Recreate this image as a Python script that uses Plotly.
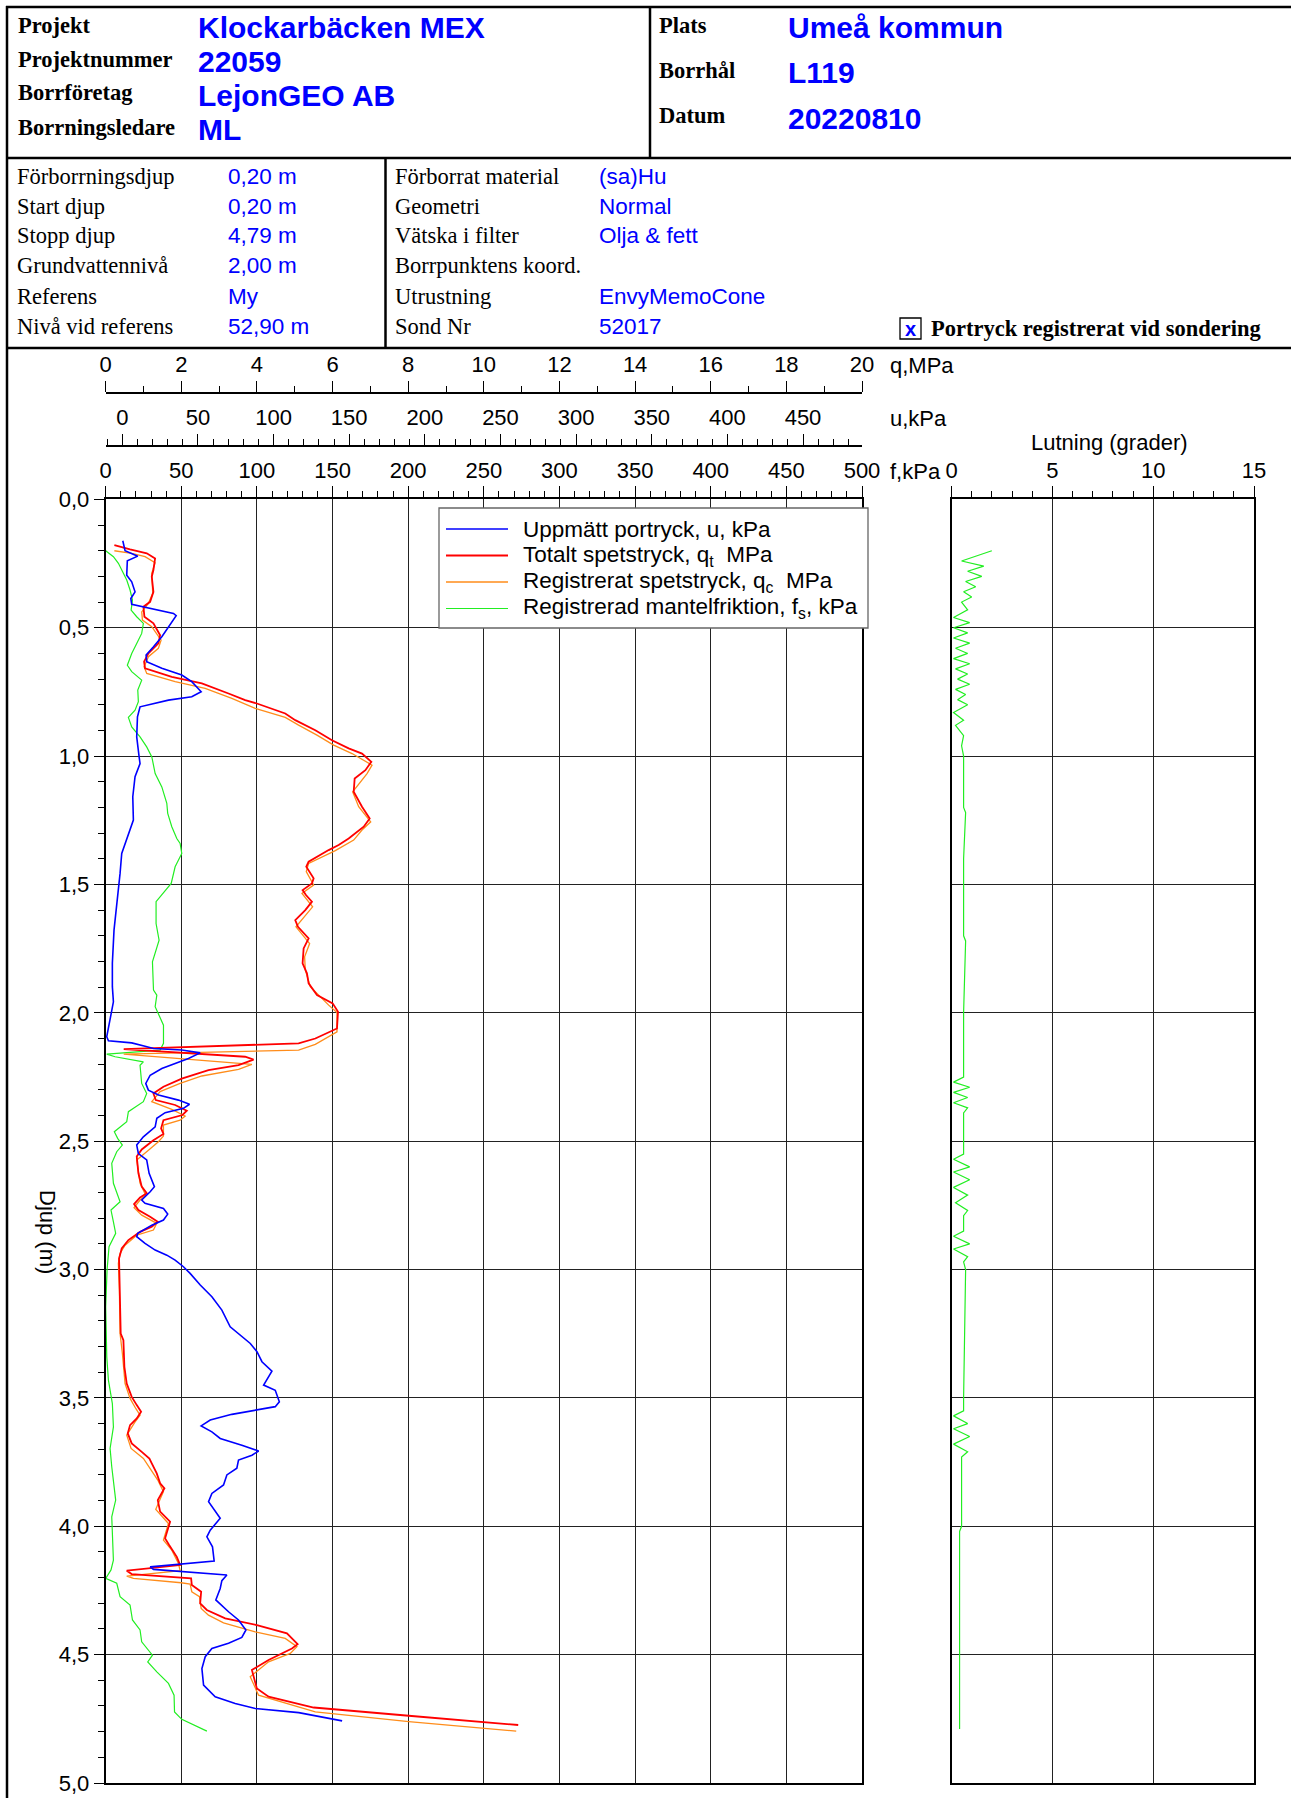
import plotly.graph_objects as go

# ---------------- data ----------------
u_depth = [0.161,0.20,0.221,0.239,0.295,0.321,0.36,0.386,0.409,0.444,
           0.453,0.483,0.535,0.574,0.606,0.632,0.658,0.684,0.71,0.749,
           0.769,0.782,0.808,0.847,0.925,1.003,1.029,1.08,1.158,1.249,
           1.321,1.379,1.457,1.522,1.60,1.678,1.807,1.898,1.957,2.028,
           2.093,2.109,2.117,2.13,2.139,2.145,2.156,2.178,2.197,2.217,
           2.243,2.275,2.301,2.32,2.34,2.356,2.372,2.389,2.411,2.444,
           2.483,2.515,2.548,2.573,2.625,2.677,2.697,2.729,2.742,2.762,
           2.784,2.807,2.827,2.859,2.872,2.898,2.924,2.944,2.963,2.989,
           3.015,3.06,3.106,3.158,3.223,3.249,3.288,3.32,3.359,3.396,
           3.45,3.47,3.515,3.534,3.545,3.564,3.586,3.609,3.632,3.658,
           3.684,3.707,3.723,3.742,3.774,3.80,3.839,3.872,3.904,3.969,
           4.015,4.041,4.08,4.135,4.158,4.168,4.19,4.212,4.242,4.287,
           4.333,4.365,4.404,4.433,4.456,4.476,4.508,4.554,4.619,4.664,
           4.69,4.71,4.726,4.758]
u_kpa = [0.3,1.8,10.2,3.3,2.9,6.2,8.4,5.6,6.2,33.8,
         35.6,32.3,26.1,20.6,15.7,16.1,26.1,39.3,45.9,52.1,
         45.9,30.5,11.7,10.0,9.5,11.1,11.7,8.4,6.9,7.3,
         3.3,-0.4,-1.5,-2.6,-3.7,-5.5,-6.6,-6.6,-5.9,-8.1,
         -10.3,-9.2,6.2,15.0,20.6,39.3,51.5,43.7,34.9,26.1,
         18.4,15.5,17.2,23.9,37.1,44.4,40.4,28.3,22.8,21.7,
         13.9,9.5,10.6,16.1,17.7,21.2,18.4,12.8,15.0,27.2,
         30.0,27.2,19.5,10.2,9.5,15.0,21.7,29.4,34.9,40.4,
         44.8,51.5,59.2,65.8,71.3,76.8,84.6,89.0,92.3,98.9,
         93.4,101.1,103.8,101.1,90.1,72.4,58.1,52.1,59.2,64.7,
         79.0,90.1,85.7,76.8,75.7,69.1,66.9,59.2,57.0,64.7,
         58.1,55.9,59.6,60.7,18.4,20.6,69.1,65.8,64.7,61.8,
         70.2,76.8,81.7,79.0,70.2,59.2,54.8,52.6,53.7,61.4,
         74.6,87.9,116.6,145.3]

qt_depth = [0.178,0.195,0.21,0.23,0.275,0.301,0.36,0.399,0.418,0.457,
            0.483,0.529,0.561,0.60,0.632,0.658,0.691,0.717,0.756,0.782,
            0.795,0.834,0.86,0.899,0.938,0.97,0.99,1.022,1.055,1.087,
            1.139,1.197,1.243,1.275,1.321,1.346,1.366,1.411,1.431,1.476,
            1.496,1.522,1.541,1.567,1.60,1.639,1.665,1.71,1.749,1.807,
            1.846,1.885,1.931,1.963,1.996,2.061,2.10,2.119,2.141,2.171,
            2.182,2.204,2.223,2.256,2.288,2.314,2.34,2.359,2.381,2.398,
            2.418,2.45,2.472,2.496,2.532,2.56,2.625,2.677,2.703,2.719,
            2.745,2.768,2.794,2.814,2.833,2.853,2.885,2.918,2.957,3.015,
            3.145,3.249,3.275,3.379,3.444,3.496,3.528,3.554,3.58,3.606,
            3.638,3.677,3.71,3.736,3.755,3.794,3.833,3.852,3.898,3.943,
            3.982,4.015,4.047,4.073,4.119,4.151,4.173,4.186,4.203,4.229,
            4.255,4.30,4.326,4.359,4.385,4.417,4.459,4.476,4.521,4.56,
            4.632,4.664,4.706,4.738,4.761,4.774]
qt_mpa = [0.229,0.644,1.086,1.306,1.262,1.218,1.262,1.174,0.997,1.024,
          1.262,1.439,1.394,1.130,1.015,1.041,1.748,2.542,3.248,3.689,
          3.998,4.748,5.013,5.543,5.984,6.425,6.778,7.025,6.867,6.584,
          6.558,6.778,6.981,6.823,6.425,6.160,5.896,5.366,5.304,5.499,
          5.454,5.207,5.296,5.454,5.278,5.013,5.084,5.366,5.234,5.207,
          5.322,5.366,5.587,6.002,6.143,6.116,5.543,5.101,0.477,3.689,
          3.910,3.513,2.718,2.012,1.527,1.262,1.324,1.836,2.145,2.030,
          1.527,1.465,1.527,1.262,0.953,0.821,0.865,0.953,1.086,0.909,
          0.750,0.865,1.174,1.377,1.218,0.909,0.600,0.424,0.353,0.362,
          0.380,0.397,0.468,0.494,0.556,0.688,0.821,0.936,0.821,0.644,
          0.583,0.688,0.953,1.156,1.218,1.350,1.439,1.553,1.377,1.439,
          1.703,1.642,1.571,1.677,1.880,1.968,0.556,0.688,2.259,2.277,
          2.524,2.498,2.674,3.160,3.998,4.793,5.075,4.925,4.307,3.866,
          3.998,4.307,5.499,8.014,10.0,10.909]

qc_depth = [0.20,0.21,0.223,0.247,0.288,0.366,0.405,0.438,0.47,0.496,
            0.548,0.58,0.613,0.652,0.678,0.71,0.736,0.775,0.814,0.849,
            0.879,0.918,0.957,0.99,1.035,1.068,1.139,1.197,1.256,1.288,
            1.327,1.368,1.418,1.45,1.502,1.535,1.587,1.665,1.73,1.782,
            1.833,1.898,1.97,1.999,2.074,2.123,2.145,2.161,2.201,2.22,
            2.246,2.275,2.307,2.346,2.376,2.402,2.418,2.437,2.48,2.502,
            2.535,2.573,2.664,2.71,2.729,2.759,2.788,2.82,2.846,2.866,
            2.905,2.937,2.976,3.08,3.249,3.327,3.444,3.502,3.541,3.567,
            3.593,3.645,3.697,3.736,3.82,3.865,3.934,3.989,4.054,4.093,
            4.145,4.173,4.194,4.203,4.22,4.225,4.255,4.274,4.32,4.346,
            4.376,4.411,4.437,4.469,4.495,4.528,4.586,4.658,4.723,4.761,
            4.798]
qc_mpa = [0.229,0.688,1.041,1.306,1.218,1.244,1.130,0.953,0.971,1.218,
          1.465,1.394,1.130,1.015,1.086,1.836,2.630,3.336,3.954,4.748,
          5.101,5.587,6.028,6.514,7.043,6.911,6.531,6.690,7.008,6.778,
          6.558,6.072,5.366,5.304,5.499,5.190,5.472,5.031,5.393,5.260,
          5.278,5.410,5.896,6.116,6.116,5.543,5.101,0.477,3.866,3.513,
          2.542,1.968,1.439,1.218,1.748,2.101,1.968,1.527,1.527,1.394,
          1.130,0.821,0.909,1.059,0.909,0.750,0.953,1.350,1.262,0.821,
          0.512,0.380,0.335,0.362,0.380,0.441,0.512,0.644,0.794,0.909,
          0.777,0.556,0.671,0.997,1.377,1.527,1.324,1.659,1.527,1.748,
          1.924,1.968,0.556,0.733,1.995,2.233,2.277,2.480,2.524,2.718,
          3.116,3.954,4.748,5.057,4.881,4.307,3.822,4.042,5.543,8.014,
          10.856]

fs_depth = [0.20,0.223,0.249,0.275,0.314,0.353,0.392,0.431,0.457,0.483,
            0.522,0.561,0.60,0.646,0.671,0.704,0.743,0.788,0.821,0.849,
            0.886,0.925,0.964,1.003,1.068,1.12,1.184,1.223,1.275,1.321,
            1.34,1.379,1.431,1.496,1.548,1.567,1.652,1.717,1.801,1.911,
            1.931,1.976,2.048,2.119,2.145,2.161,2.171,2.191,2.204,2.275,
            2.314,2.346,2.385,2.424,2.463,2.489,2.515,2.541,2.586,2.664,
            2.736,2.768,2.814,2.859,2.911,3.002,3.145,3.34,3.431,3.522,
            3.613,3.697,3.768,3.898,3.963,4.132,4.17,4.203,4.222,4.274,
            4.307,4.365,4.404,4.45,4.502,4.528,4.567,4.612,4.658,4.723,
            4.752,4.798]
fs_kpa = [0.0,5.1,8.4,10.6,13.9,16.1,17.7,16.8,20.5,24.9,
          23.8,20.5,17.2,14.3,17.2,23.8,21.2,21.6,19.4,15.0,
          17.2,22.7,27.1,30.5,32.7,37.1,40.4,41.0,43.7,47.0,
          49.2,50.3,45.9,43.3,36.0,33.3,33.3,35.3,30.9,31.6,
          33.8,32.7,38.2,38.2,36.0,0.7,6.2,24.9,22.7,23.8,
          27.1,24.9,15.0,13.9,5.7,7.9,11.0,7.3,4.0,5.1,
          9.5,3.5,5.1,6.6,2.2,0.9,0.0,0.7,1.8,4.4,
          5.1,2.9,4.0,6.6,4.0,5.1,3.5,0.0,7.3,9.5,
          16.1,17.7,22.7,23.8,30.9,27.8,33.8,41.5,45.2,45.5,
          50.3,66.9]

lut_depth = [0.20,0.22,0.24,0.26,0.28,0.30,0.32,0.34,0.36,0.38,
             0.40,0.43,0.46,0.48,0.50,0.52,0.54,0.56,0.58,0.60,
             0.62,0.64,0.66,0.68,0.70,0.72,0.74,0.76,0.78,0.80,
             0.83,0.86,0.88,0.92,0.96,1.00,1.20,1.22,1.40,1.70,
             1.72,2.00,2.25,2.27,2.29,2.31,2.33,2.35,2.37,2.39,
             2.55,2.57,2.60,2.62,2.65,2.68,2.71,2.74,2.77,2.79,
             2.85,2.87,2.90,2.92,2.95,2.97,3.00,3.50,3.55,3.57,
             3.60,3.62,3.65,3.68,3.71,3.73,4.00,4.02,4.79]
lut_deg = [2.0,1.2,0.5,1.6,0.8,1.5,0.7,1.2,0.6,1.0,
           0.5,0.8,0.1,0.9,0.1,0.8,0.1,0.9,0.2,0.8,
           0.1,0.9,0.2,0.8,0.3,0.9,0.2,0.7,0.3,0.8,
           0.1,0.6,0.2,0.6,0.5,0.6,0.6,0.7,0.6,0.6,
           0.7,0.6,0.6,0.1,0.9,0.1,0.8,0.1,0.8,0.6,
           0.6,0.1,0.9,0.1,0.9,0.1,0.8,0.2,0.8,0.6,
           0.6,0.1,0.9,0.1,0.8,0.6,0.7,0.6,0.6,0.1,
           0.8,0.1,0.9,0.1,0.8,0.5,0.5,0.4,0.4]

depth_ticks = [0.0, 0.5, 1.0, 1.5, 2.0, 2.5, 3.0, 3.5, 4.0, 4.5, 5.0]
depth_ticktext = ["0,0", "0,5", "1,0", "1,5", "2,0", "2,5", "3,0", "3,5", "4,0", "4,5", "5,0"]

header_left = [("Projekt", "Klockarbäcken MEX"), ("Projektnummer", "22059"),
               ("Borrföretag", "LejonGEO AB"), ("Borrningsledare", "ML")]
header_right = [("Plats", "Umeå kommun"), ("Borrhål", "L119"), ("Datum", "20220810")]
info_left = [("Förborrningsdjup", "0,20 m"), ("Start djup", "0,20 m"), ("Stopp djup", "4,79 m"),
             ("Grundvattennivå", "2,00 m"), ("Referens", "My"), ("Nivå vid referens", "52,90 m")]
info_mid = [("Förborrat material", "(sa)Hu"), ("Geometri", "Normal"), ("Vätska i filter", "Olja & fett"),
            ("Borrpunktens koord.", ""), ("Utrustning", "EnvyMemoCone"), ("Sond Nr", "52017")]

legend_items = [("Uppmätt portryck, u, kPa", "#0000FF", 1.6),
                ("Totalt spetstryck, q<sub>t</sub>  MPa", "#FF0000", 1.8),
                ("Registrerat spetstryck, q<sub>c</sub>  MPa", "#FF8C1A", 1.3),
                ("Registrerad mantelfriktion, f<sub>s</sub>, kPa", "#22EE22", 1.2)]

# ---------------- layout helpers ----------------
W, H = 1291, 1798
def fx(p): return p / W
def fy(p): return 1 - p / H

SANS = "Liberation Sans, Arial, sans-serif"
SERIF = "Liberation Serif, Times New Roman, serif"
BLUE = "#0000FF"

X0, X1 = 105.7, 862.0      # main plot pixel extents
LX0, LX1 = 951.5, 1254.0   # lutning plot
Y0, Y1 = 499.4, 1783.0

fig = go.Figure()

fig.add_trace(go.Scatter(x=fs_kpa, y=fs_depth, mode="lines", xaxis="x", yaxis="y",
                         line=dict(color="#22EE22", width=1.2), showlegend=False,
                         name="Registrerad mantelfriktion, fs, kPa"))
fig.add_trace(go.Scatter(x=qc_mpa, y=qc_depth, mode="lines", xaxis="x2", yaxis="y",
                         line=dict(color="#FF8C1A", width=1.3), showlegend=False,
                         name="Registrerat spetstryck, qc MPa"))
fig.add_trace(go.Scatter(x=qt_mpa, y=qt_depth, mode="lines", xaxis="x2", yaxis="y",
                         line=dict(color="#FF0000", width=1.8), showlegend=False,
                         name="Totalt spetstryck, qt MPa"))
fig.add_trace(go.Scatter(x=u_kpa, y=u_depth, mode="lines", xaxis="x3", yaxis="y",
                         line=dict(color="#0000FF", width=1.6), showlegend=False,
                         name="Uppmätt portryck, u, kPa"))
fig.add_trace(go.Scatter(x=lut_deg, y=lut_depth, mode="lines", xaxis="x4", yaxis="y2",
                         line=dict(color="#22EE22", width=1.2), showlegend=False,
                         name="Lutning"))

tickfont = dict(family=SANS, size=22, color="black")
dom_main = [fx(X0), fx(X1)]
dom_y = [fy(Y1), fy(Y0)]

def top_axis(**kw):
    d = dict(side="top", ticks="outside", ticklen=11, tickwidth=1.3, tickcolor="black",
             showline=True, linecolor="black", zeroline=False, tickfont=tickfont,
             fixedrange=True, tickmode="linear")
    d.update(kw)
    return d

fig.update_layout(
    width=W, height=H, autosize=False,
    margin=dict(l=0, r=0, t=0, b=0, autoexpand=False),
    paper_bgcolor="white", plot_bgcolor="white",
    showlegend=False,
    xaxis=top_axis(domain=dom_main, range=[0, 500], anchor="y", tick0=0, dtick=50,
                   linewidth=2, mirror=True, showgrid=True, gridcolor="#222", gridwidth=1,
                   minor=dict(tick0=0, dtick=10, ticks="outside", ticklen=6, tickcolor="black",
                              tickwidth=1, showgrid=False)),
    xaxis2=top_axis(domain=dom_main, range=[0, 20], overlaying="x", anchor="free",
                    position=fy(393), tick0=0, dtick=2, linewidth=1.6, showgrid=False,
                    minor=dict(tick0=0, dtick=1, ticks="outside", ticklen=6, tickcolor="black",
                               tickwidth=1, showgrid=False)),
    xaxis3=top_axis(domain=dom_main, range=[-11, 489], overlaying="x", anchor="free",
                    position=fy(445.5), tick0=0, dtick=50, linewidth=1.6, showgrid=False,
                    minor=dict(tick0=0, dtick=10, ticks="outside", ticklen=6, tickcolor="black",
                               tickwidth=1, showgrid=False)),
    xaxis4=top_axis(domain=[fx(LX0), fx(LX1)], range=[0, 15], anchor="y2", tick0=0, dtick=5,
                    linewidth=2, mirror=True, showgrid=True, gridcolor="#222", gridwidth=1,
                    minor=dict(tick0=0, dtick=1, ticks="outside", ticklen=6, tickcolor="black",
                               tickwidth=1, showgrid=False)),
    yaxis=dict(domain=dom_y, range=[5, 0], anchor="x", tickmode="array",
               tickvals=depth_ticks, ticktext=depth_ticktext, ticks="outside", ticklen=10,
               tickwidth=1.3, tickcolor="black", showline=True, linewidth=2, linecolor="black",
               mirror=True, showgrid=True, gridcolor="#222", gridwidth=1, zeroline=False,
               tickfont=tickfont, fixedrange=True,
               minor=dict(tickvals=[i / 10 for i in range(51)], ticks="outside", ticklen=6,
                          tickcolor="black", tickwidth=1, showgrid=False)),
    yaxis2=dict(domain=dom_y, range=[5, 0], anchor="x4", tickmode="array",
                tickvals=depth_ticks, showticklabels=False, ticks="", showline=True,
                linewidth=2, linecolor="black", mirror=True, showgrid=True, gridcolor="#222",
                gridwidth=1, zeroline=False, fixedrange=True),
)

shapes = []
annots = []

def hline(y, x0, x1, w=2.5, color="black"):
    shapes.append(dict(type="line", xref="paper", yref="paper", x0=fx(x0), x1=fx(x1),
                       y0=fy(y), y1=fy(y), line=dict(color=color, width=w)))

def vline(x, y0, y1, w=2.5, color="black"):
    shapes.append(dict(type="line", xref="paper", yref="paper", x0=fx(x), x1=fx(x),
                       y0=fy(y0), y1=fy(y1), line=dict(color=color, width=w)))

def text(x, y, s, family=SANS, size=22, color="black", bold=False, xanchor="left", angle=0):
    if bold:
        s = "<b>" + s + "</b>"
    annots.append(dict(x=fx(x), y=fy(y), xref="paper", yref="paper", text=s, showarrow=False,
                       xanchor=xanchor, yanchor="middle", textangle=angle,
                       font=dict(family=family, size=size, color=color)))

# header frame
hline(7, 6, W)
vline(7, 6, H)
hline(158, 7, W)
vline(650, 7, 158)
hline(348, 7, W)
vline(385.5, 158, 348)

for i, (lab, val) in enumerate(header_left):
    ly = [25, 59, 93, 127][i]
    text(16, ly, lab, family=SERIF, size=22.5, bold=True)
    text(196, ly + 2.5, val, family=SANS, size=30, color=BLUE, bold=True)
for i, (lab, val) in enumerate(header_right):
    ly = [25, 70, 116][i]
    text(657, ly, lab, family=SERIF, size=22.5, bold=True)
    text(786, ly + 2.5, val, family=SANS, size=30, color=BLUE, bold=True)

rows = [176.5, 206, 236, 266, 296.5, 326.5]
for i, (lab, val) in enumerate(info_left):
    text(15, rows[i], lab, family=SERIF, size=22.5)
    text(226, rows[i], val, family=SANS, size=22.5, color=BLUE)
for i, (lab, val) in enumerate(info_mid):
    text(393, rows[i], lab, family=SERIF, size=22.5)
    if val:
        text(597, rows[i], val, family=SANS, size=22.5, color=BLUE)

# checkbox
shapes.append(dict(type="rect", xref="paper", yref="paper", x0=fx(900), x1=fx(921),
                   y0=fy(339), y1=fy(318), line=dict(color="black", width=1.3)))
text(910.5, 328.5, "x", family=SANS, size=20, color=BLUE, bold=True, xanchor="center")
text(929, 328.5, "Portryck registrerat vid sondering", family=SERIF, size=22.5, bold=True)

# axis names
text(888, 366, "q,MPa", size=22)
text(888, 418.5, "u,kPa", size=22)
text(888, 471.5, "f,kPa", size=22)
text(1109, 443, "Lutning (grader)", size=22, xanchor="center")
text(48, 1232, "Djup (m)", size=22, xanchor="center", angle=90)

# legend box
shapes.append(dict(type="rect", xref="paper", yref="paper", x0=fx(439), x1=fx(868),
                   y0=fy(628), y1=fy(508), fillcolor="white",
                   line=dict(color="#666666", width=1.3), layer="above"))
ly = [529, 555.5, 582, 608.5]
for i, (lab, col, w) in enumerate(legend_items):
    shapes.append(dict(type="line", xref="paper", yref="paper", x0=fx(446), x1=fx(508),
                       y0=fy(ly[i]), y1=fy(ly[i]), line=dict(color=col, width=w), layer="above"))
    text(521, ly[i], lab, size=22.5)

fig.update_layout(shapes=shapes, annotations=annots)

post = ("document.documentElement.style.margin='0';document.body.style.margin='0';"
        "document.body.style.padding='0';document.body.style.overflow='hidden';"
        "var d=document.getElementById('{plot_id}');d.style.position='fixed';"
        "d.style.left='0px';d.style.top='0px';")
fig.write_html("out.html", config={"displayModeBar": False}, post_script=post)
